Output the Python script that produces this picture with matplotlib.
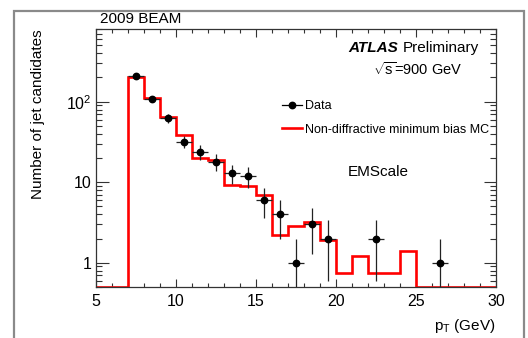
import matplotlib
matplotlib.use('Agg')
import matplotlib.pyplot as plt
import numpy as np
from matplotlib.patches import Rectangle
from matplotlib.lines import Line2D
from matplotlib.ticker import FixedLocator, NullFormatter, MultipleLocator

plt.rcParams['font.family'] = ['Liberation Sans', 'DejaVu Sans']
plt.rcParams['mathtext.fontset'] = 'custom'
plt.rcParams['mathtext.rm'] = 'Liberation Sans'
plt.rcParams['mathtext.it'] = 'Liberation Sans:italic'
plt.rcParams['mathtext.bf'] = 'Liberation Sans:bold'

# bin edges in pT (GeV), 1 GeV bins from 5 to 30
bin_edges = np.arange(5, 31, 1)
# non-diffractive minimum bias MC (normalised), one value per bin
mc_counts = [0, 0, 204, 110, 65, 38.7, 19.8, 18.9, 9.3, 9.0, 7.0, 2.19, 2.86,
             3.24, 1.9, 0.74, 1.21, 0.74, 0.74, 1.41, 0, 0, 0, 0, 0]
# data: jet candidates per bin
data_counts = [0, 0, 211, 109, 62, 32, 24, 18, 13, 12, 6, 4, 1, 3, 2, 0, 0,
               2, 0, 0, 0, 1, 0, 0, 0]

x_ticks = [5, 10, 15, 20, 25, 30]
y_ticks = [1, 10, 100]
y_tick_labels = ['1', '10', r'10$^{2}$']
y_min, y_max = 0.5, 800

fig = plt.figure(figsize=(5.28, 3.38), dpi=100)
ax = fig.add_axes([96/528, 1 - 287/338, 400/528, 258/338])

# outer gray canvas frame
fig.patches.append(Rectangle((14/528, -0.2), 510/528, 1.2 - 11/338,
                             transform=fig.transFigure, fill=False,
                             edgecolor='#8a8a8a', lw=1.6, clip_on=False))

# MC histogram, empty bins drawn on the lower frame like ROOT does
mc = np.maximum(np.array(mc_counts, dtype=float), y_min)
ax.stairs(mc, bin_edges, color='#ff0000', lw=1.9, baseline=None, zorder=2)

# data points with sqrt(N) errors and bin-width x errors
centres = 0.5 * (bin_edges[:-1] + bin_edges[1:])
d = np.array(data_counts, dtype=float)
sel = d > 0
ax.errorbar(centres[sel], d[sel], yerr=np.sqrt(d[sel]), xerr=0.5,
            fmt='o', color='black', ms=4.6, elinewidth=0.9, capsize=0,
            ecolor='#222222', zorder=3)

ax.set_yscale('log')
ax.set_xlim(5, 30)
ax.set_ylim(y_min, y_max)

ax.xaxis.set_major_locator(FixedLocator(x_ticks))
ax.xaxis.set_minor_locator(MultipleLocator(1))
ax.yaxis.set_major_locator(FixedLocator(y_ticks))
ax.set_yticklabels(y_tick_labels)
minors = [m * 10.0**e for e in (-1, 0, 1, 2) for m in range(2, 10)]
ax.yaxis.set_minor_locator(FixedLocator(minors))
ax.yaxis.set_minor_formatter(NullFormatter())

ax.tick_params(which='both', direction='in', top=True, right=True,
               colors='#333333', labelcolor='black', labelsize=11.5)
ax.tick_params(axis='x', which='major', length=5.5, width=0.8, pad=5)
ax.tick_params(axis='x', which='minor', length=3, width=0.8)
ax.tick_params(axis='y', which='major', length=9, width=0.8, pad=3)
ax.tick_params(axis='y', which='minor', length=4.5, width=0.8)
for s in ax.spines.values():
    s.set_color('#333333')
    s.set_linewidth(0.9)

ax.set_ylabel('Number of jet candidates', fontsize=11, loc='top')
ax.yaxis.set_label_coords(-0.128, 1.0)
ax.set_xlabel(r'p$_{\mathregular{T}}$ (GeV)', fontsize=11, loc='right')
ax.xaxis.set_label_coords(1.0, -0.115)
ax.xaxis.label.set_va('top')

fig.text(100/528, 1 - 23/338, '2009 BEAM', fontsize=11, ha='left',
         va='baseline')

prelim = ax.text(0.957, 0.928, 'Preliminary', transform=ax.transAxes,
                 fontsize=11, ha='right', va='center')
ax.annotate('ATLAS ', xy=(0, 0.5), xycoords=prelim, ha='right', va='center',
            fontsize=11, fontweight='bold', fontstyle='italic')
ax.text(0.915, 0.842, r'$\sqrt{\mathrm{s}}$=900 GeV', transform=ax.transAxes,
        fontsize=10.5, ha='right', va='center')
ax.text(0.705, 0.446, 'EMScale', transform=ax.transAxes, fontsize=11,
        ha='center', va='center')

handles = [Line2D([], [], color='black', marker='o', ms=4.6, lw=0.9),
           Line2D([], [], color='#ff0000', lw=1.9)]
ax.legend(handles, ['Data', 'Non-diffractive minimum bias MC'],
          loc='upper left', bbox_to_anchor=(0.465, 0.725), frameon=False,
          fontsize=9, handlelength=1.6, handletextpad=0.25,
          labelspacing=0.95, borderpad=0, borderaxespad=0)

fig.savefig('out.png', dpi=100)
